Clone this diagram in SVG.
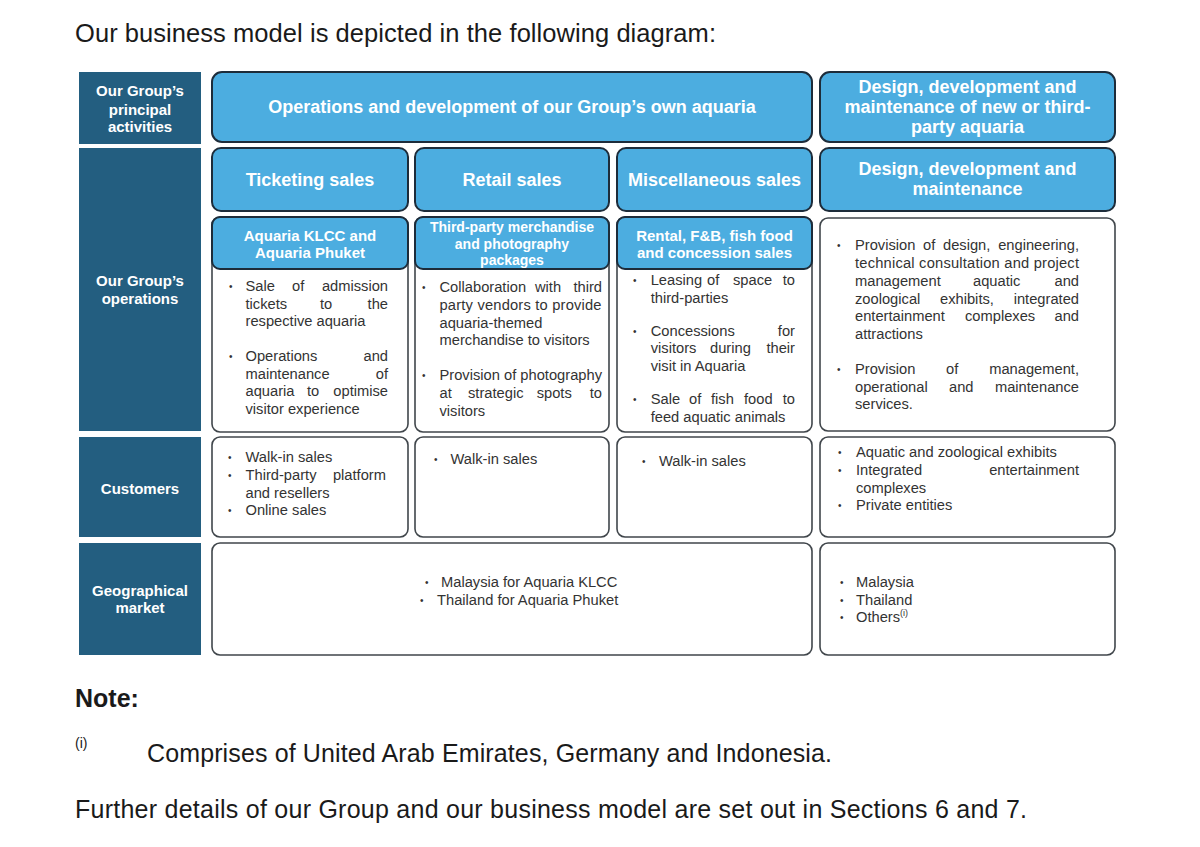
<svg xmlns="http://www.w3.org/2000/svg" width="1200" height="847" viewBox="0 0 1200 847">
<style>
text{font-family:"Liberation Sans",Arial,sans-serif}
.navy{fill:#235E80}
.blue{fill:#4CADE0;stroke:#1D2C3A;stroke-width:2}
.white{fill:#fff;stroke:#40464B;stroke-width:1.6}
.lc{font-weight:bold;font-size:15px;fill:#fff;text-anchor:middle}
.h{font-weight:bold;font-size:18px;fill:#fff;text-anchor:middle}
.sh{font-weight:bold;font-size:15px;fill:#fff;text-anchor:middle}
.sh2{font-weight:bold;font-size:14px;fill:#fff;text-anchor:middle}
.b{font-size:14.7px;fill:#333}
.bl{font-size:10px;fill:#333}
.e{text-anchor:end}
.doc{fill:#1a1a1a}
</style>
<rect width="1200" height="847" fill="#fff"/>

<g id="page-text">
<text class="doc" x="75" y="42" font-size="25.5" textLength="641">Our business model is depicted in the following diagram:</text>
<text class="doc" x="75" y="707" font-size="25" font-weight="bold">Note:</text>
<text class="doc" x="75" y="748" font-size="14">(i)</text>
<text class="doc" x="147" y="762" font-size="25" textLength="685">Comprises of United Arab Emirates, Germany and Indonesia.</text>
<text class="doc" x="75" y="818" font-size="25" textLength="952">Further details of our Group and our business model are set out in Sections 6 and 7.</text>
</g>

<g id="row-labels">
<g id="label-principal">
<rect class="navy" x="79" y="72" width="122" height="72"/>
<text class="lc" x="140" y="96">Our Group’s</text>
<text class="lc" x="140" y="114.5">principal</text>
<text class="lc" x="140" y="132">activities</text>
</g>
<g id="label-operations">
<rect class="navy" x="79" y="148" width="122" height="283"/>
<text class="lc" x="140" y="286">Our Group’s</text>
<text class="lc" x="140" y="303.5">operations</text>
</g>
<g id="label-customers">
<rect class="navy" x="79" y="437" width="122" height="100"/>
<text class="lc" x="140" y="493.5">Customers</text>
</g>
<g id="label-geo">
<rect class="navy" x="79" y="543" width="122" height="112"/>
<text class="lc" x="140" y="595.5">Geographical</text>
<text class="lc" x="140" y="613">market</text>
</g>
</g>

<g id="activity-own">
<rect class="blue" x="212" y="72" width="600" height="70" rx="10"/>
<text class="h" x="512" y="113">Operations and development of our Group’s own aquaria</text>
</g>
<g id="activity-design">
<rect class="blue" x="820" y="72" width="295" height="70" rx="10"/>
<text class="h" x="967.5" y="93">Design, development and</text>
<text class="h" x="967.5" y="113">maintenance of new or third-</text>
<text class="h" x="967.5" y="133">party aquaria</text>
</g>

<g id="seg-ticketing">
<rect class="blue" x="212" y="148" width="196" height="63" rx="9"/>
<text class="h" x="310" y="186">Ticketing sales</text>
</g>
<g id="seg-retail">
<rect class="blue" x="415" y="148" width="194" height="63" rx="9"/>
<text class="h" x="512" y="186">Retail sales</text>
</g>
<g id="seg-misc">
<rect class="blue" x="617" y="148" width="195" height="63" rx="9"/>
<text class="h" x="714.5" y="186">Miscellaneous sales</text>
</g>
<g id="seg-design">
<rect class="blue" x="820" y="148" width="295" height="63" rx="9"/>
<text class="h" x="967.5" y="175">Design, development and</text>
<text class="h" x="967.5" y="195">maintenance</text>
</g>

<g id="ops-ticketing">
<rect class="white" x="212" y="217" width="196" height="215" rx="8"/>
<rect class="blue" x="212" y="217" width="196" height="52" rx="8"/>
<text class="sh" x="310" y="240.5">Aquaria KLCC and</text>
<text class="sh" x="310" y="257.5">Aquaria Phuket</text>
<text class="bl" x="229" y="290">•</text>
<text class="b" y="291"><tspan x="245.5">Sale</tspan><tspan x="292">of</tspan><tspan class="e" x="388">admission</tspan></text>
<text class="b" y="308.5"><tspan x="245.5">tickets</tspan><tspan x="320">to</tspan><tspan class="e" x="388">the</tspan></text>
<text class="b" x="245.5" y="326">respective aquaria</text>
<text class="bl" x="229" y="360">•</text>
<text class="b" y="361"><tspan x="245.5">Operations</tspan><tspan class="e" x="388">and</tspan></text>
<text class="b" y="378.5"><tspan x="245.5">maintenance</tspan><tspan class="e" x="388">of</tspan></text>
<text class="b" y="396"><tspan x="245.5">aquaria</tspan><tspan x="307">to</tspan><tspan class="e" x="388">optimise</tspan></text>
<text class="b" x="245.5" y="413.5">visitor experience</text>
</g>

<g id="ops-retail">
<rect class="white" x="415" y="217" width="194" height="215" rx="8"/>
<rect class="blue" x="415" y="217" width="194" height="52" rx="8"/>
<text class="sh2" x="512" y="232">Third-party merchandise</text>
<text class="sh2" x="512" y="248.5">and photography</text>
<text class="sh2" x="512" y="265">packages</text>
<text class="bl" x="422" y="291">•</text>
<text class="b" y="292"><tspan x="439.5">Collaboration</tspan><tspan x="535">with</tspan><tspan class="e" x="602">third</tspan></text>
<text class="b" x="439.5" y="310" textLength="162">party vendors to provide</text>
<text class="b" x="439.5" y="328">aquaria-themed</text>
<text class="b" x="439.5" y="345">merchandise to visitors</text>
<text class="bl" x="422" y="379">•</text>
<text class="b" x="439.5" y="380">Provision of photography</text>
<text class="b" y="398"><tspan x="439.5">at</tspan><tspan x="468">strategic</tspan><tspan x="536.7">spots</tspan><tspan class="e" x="602">to</tspan></text>
<text class="b" x="439.5" y="416">visitors</text>
</g>

<g id="ops-misc">
<rect class="white" x="617" y="217" width="195" height="215" rx="8"/>
<rect class="blue" x="617" y="217" width="195" height="52" rx="8"/>
<text class="sh" x="714.5" y="240.5">Rental, F&amp;B, fish food</text>
<text class="sh" x="714.5" y="258">and concession sales</text>
<text class="bl" x="633" y="284">•</text>
<text class="b" y="285"><tspan x="650.7">Leasing</tspan><tspan x="707">of</tspan><tspan x="733">space</tspan><tspan class="e" x="795">to</tspan></text>
<text class="b" x="650.7" y="303">third-parties</text>
<text class="bl" x="633" y="335">•</text>
<text class="b" y="336"><tspan x="650.7">Concessions</tspan><tspan class="e" x="795">for</tspan></text>
<text class="b" y="353"><tspan x="650.7">visitors</tspan><tspan x="710">during</tspan><tspan class="e" x="795">their</tspan></text>
<text class="b" x="650.7" y="371">visit in Aquaria</text>
<text class="bl" x="633" y="403">•</text>
<text class="b" y="404"><tspan x="650.7">Sale</tspan><tspan x="689">of</tspan><tspan x="711">fish</tspan><tspan x="744">food</tspan><tspan class="e" x="795">to</tspan></text>
<text class="b" x="650.7" y="422">feed aquatic animals</text>
</g>

<g id="ops-design">
<rect class="white" x="820" y="218" width="295" height="213" rx="8"/>
<text class="bl" x="837" y="249">•</text>
<text class="b" y="250"><tspan x="855">Provision</tspan><tspan x="923">of</tspan><tspan x="943">design,</tspan><tspan class="e" x="1079">engineering,</tspan></text>
<text class="b" x="855" y="268" textLength="224">technical consultation and project</text>
<text class="b" y="286"><tspan x="855">management</tspan><tspan x="973">aquatic</tspan><tspan class="e" x="1079">and</tspan></text>
<text class="b" y="303.5"><tspan x="855">zoological</tspan><tspan x="940">exhibits,</tspan><tspan class="e" x="1079">integrated</tspan></text>
<text class="b" y="321"><tspan x="855">entertainment</tspan><tspan x="965">complexes</tspan><tspan class="e" x="1079">and</tspan></text>
<text class="b" x="855" y="338.5">attractions</text>
<text class="bl" x="837" y="373">•</text>
<text class="b" y="374"><tspan x="855">Provision</tspan><tspan x="946">of</tspan><tspan class="e" x="1079">management,</tspan></text>
<text class="b" y="392"><tspan x="855">operational</tspan><tspan x="949">and</tspan><tspan class="e" x="1079">maintenance</tspan></text>
<text class="b" x="855" y="409">services.</text>
</g>

<g id="cust-ticketing">
<rect class="white" x="212" y="437" width="196" height="100" rx="8"/>
<text class="bl" x="228" y="461">•</text>
<text class="b" x="245.5" y="462">Walk-in sales</text>
<text class="bl" x="228" y="479">•</text>
<text class="b" y="480"><tspan x="245.5">Third-party</tspan><tspan class="e" x="386">platform</tspan></text>
<text class="b" x="245.5" y="497.5">and resellers</text>
<text class="bl" x="228" y="514">•</text>
<text class="b" x="245.5" y="515">Online sales</text>
</g>
<g id="cust-retail">
<rect class="white" x="415" y="437" width="194" height="100" rx="8"/>
<text class="bl" x="434" y="463">•</text>
<text class="b" x="450.5" y="464">Walk-in sales</text>
</g>
<g id="cust-misc">
<rect class="white" x="617" y="437" width="195" height="100" rx="8"/>
<text class="bl" x="642" y="465">•</text>
<text class="b" x="659" y="466">Walk-in sales</text>
</g>
<g id="cust-design">
<rect class="white" x="820" y="437" width="295" height="100" rx="8"/>
<text class="bl" x="838" y="456">•</text>
<text class="b" x="856" y="457">Aquatic and zoological exhibits</text>
<text class="bl" x="838" y="474">•</text>
<text class="b" y="475"><tspan x="856">Integrated</tspan><tspan class="e" x="1079">entertainment</tspan></text>
<text class="b" x="856" y="492.5">complexes</text>
<text class="bl" x="838" y="509">•</text>
<text class="b" x="856" y="510">Private entities</text>
</g>

<g id="geo-own">
<rect class="white" x="212" y="543" width="600" height="112" rx="8"/>
<text class="bl" x="425" y="586">•</text>
<text class="b" x="441" y="587">Malaysia for Aquaria KLCC</text>
<text class="bl" x="420" y="604">•</text>
<text class="b" x="437" y="605">Thailand for Aquaria Phuket</text>
</g>
<g id="geo-design">
<rect class="white" x="820" y="543" width="295" height="112" rx="8"/>
<text class="bl" x="840" y="586">•</text>
<text class="b" x="856" y="587">Malaysia</text>
<text class="bl" x="840" y="604">•</text>
<text class="b" x="856" y="605">Thailand</text>
<text class="bl" x="840" y="621">•</text>
<text class="b" x="856" y="622">Others<tspan font-size="9" dy="-6">(i)</tspan></text>
</g>

<g id="connectors"/>
</svg>
